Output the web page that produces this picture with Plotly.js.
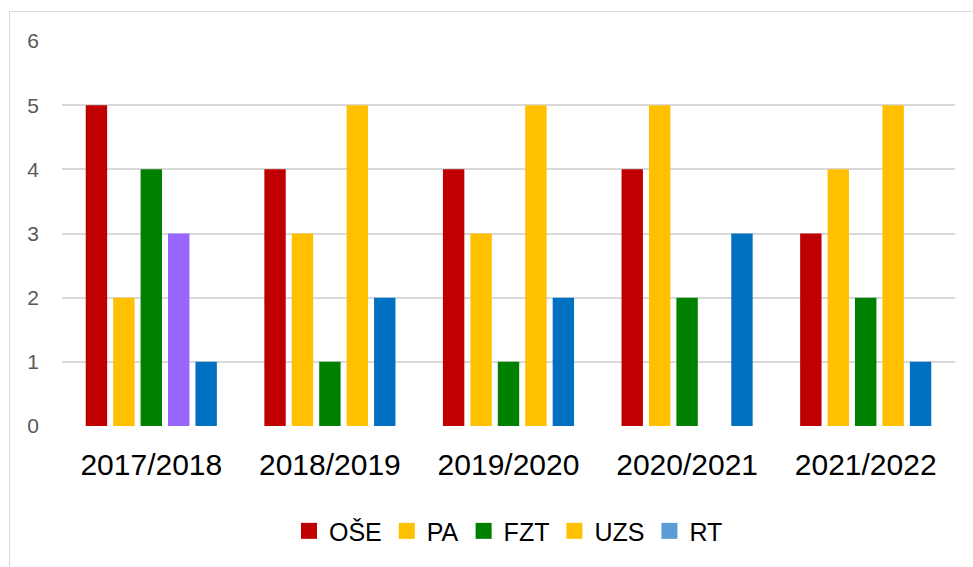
<!DOCTYPE html>
<html>
<head>
<meta charset="utf-8">
<script src="https://cdn.plot.ly/plotly-3.0.1.min.js"></script>
<style>
  html, body { margin: 0; padding: 0; background: #fff; overflow: hidden; }
  #frame { position: absolute; left: 9px; top: 11px; width: 1000px; height: 600px;
           border-left: 1.5px solid #D9D9D9; border-top: 1.5px solid #D9D9D9; }
  #chart { position: absolute; left: 0; top: 0; width: 973px; height: 567px; }
</style>
</head>
<body>
<div id="frame"></div>
<div id="chart"></div>
<script>
const categories = ["2017/2018", "2018/2019", "2019/2020", "2020/2021", "2021/2022"];
const seriesNames = ["OŠE", "PA", "FZT", "UZS", "RT"];
const OSE = [5, 4, 4, 4, 3];
const PA  = [2, 3, 3, 5, 4];
const FZT = [4, 1, 1, 2, 2];
const UZS = [3, 5, 5, 0, 5];
const RT  = [1, 2, 2, 3, 1];
const seriesValues = [OSE, PA, FZT, UZS, RT];
const legendColors = ["#C00000", "#FFC000", "#008000", "#FFC000", "#5B9BD5"];
const barColors = [
  "#C00000",
  "#FFC000",
  "#008000",
  ["#9966FF", "#FFC000", "#FFC000", "#FFC000", "#FFC000"],
  "#0070C0"
];

const traces = [];
seriesNames.forEach((name, i) => {
  traces.push({
    type: "bar",
    name: name,
    x: categories,
    y: seriesValues[i],
    marker: { color: barColors[i] },
    showlegend: false,
    hoverinfo: "x+y+name"
  });
});
seriesNames.forEach((name, i) => {
  traces.push({
    type: "scatter",
    mode: "markers",
    name: name,
    x: [null],
    y: [null],
    marker: { symbol: "square", size: 18, color: legendColors[i] },
    showlegend: true
  });
});

const layout = {
  width: 973,
  height: 567,
  margin: { l: 62, r: 18, t: 41, b: 141 },
  paper_bgcolor: "rgba(0,0,0,0)",
  plot_bgcolor: "rgba(0,0,0,0)",
  font: { family: "Liberation Sans, Arial, sans-serif", color: "#000" },
  barmode: "group",
  bargap: 0.232,
  bargroupgap: 0.22,
  xaxis: {
    type: "category",
    showgrid: false,
    showline: false,
    zeroline: false,
    ticks: "",
    tickfont: { size: 30, color: "#000" },
    ticklabelstandoff: 18
  },
  yaxis: {
    range: [0, 6],
    dtick: 1,
    showgrid: true,
    gridcolor: "#D9D9D9",
    gridwidth: 2,
    zeroline: false,
    showline: false,
    ticks: "",
    tickfont: { size: 21, color: "#595959" },
    ticklabelstandoff: 22
  },
  legend: {
    orientation: "h",
    x: 0.5,
    xanchor: "center",
    y: -0.273,
    yanchor: "middle",
    font: { size: 25, color: "#000" },
    itemsizing: "trace",
    bgcolor: "rgba(0,0,0,0)"
  },
  showlegend: true
};

Plotly.newPlot("chart", traces, layout, { displayModeBar: false, staticPlot: true });
</script>
</body>
</html>
